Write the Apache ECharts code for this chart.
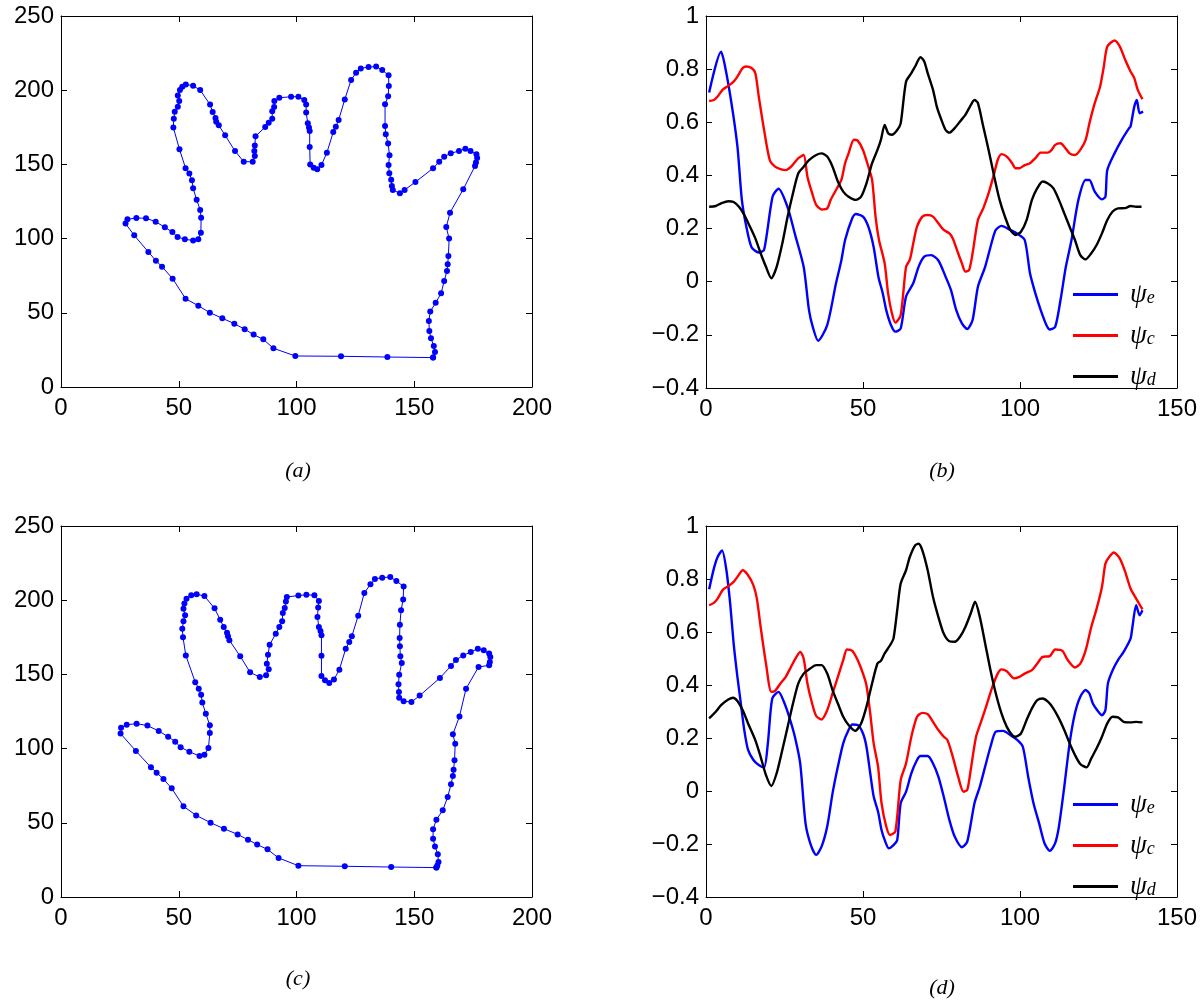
<!DOCTYPE html>
<html>
<head>
<meta charset="utf-8">
<script src="https://cdn.jsdelivr.net/npm/echarts@6/dist/echarts.min.js"></script>
<style>
html,body{margin:0;padding:0;background:#fff;}
#chart{width:1203px;height:1002px;}
</style>
</head>
<body>
<div id="chart"></div>
<script>
// ---------- data ----------
const captions = ['(a)', '(b)', '(c)', '(d)'];
const handTicksX = [0, 50, 100, 150, 200];
const handTicksY = [0, 50, 100, 150, 200, 250];
const psiTicksX = [0, 50, 100, 150];
const psiTicksY = [-0.4, -0.2, 0, 0.2, 0.4, 0.6, 0.8, 1];
const legendNames = ['e', 'c', 'd'];

const handA = [[158.0,19.8],[158.8,23.6],[158.3,27.6],[157.1,32.8],[156.4,37.7],[156.2,44.5],[156.8,50.8],[159.1,56.8],[161.4,63.1],[162.7,71.4],[163.9,78.2],[164.2,82.7],[164.5,88.3],[164.8,100.0],[163.6,107.8],[165.2,117.5],[170.8,133.2],[175.8,148.9],[176.2,151.2],[176.7,154.3],[176.4,156.8],[173.9,159.0],[171.7,160.6],[169.0,159.0],[165.5,157.5],[162.7,155.2],[160.6,151.8],[158.0,147.4],[150.5,138.1],[145.9,132.8],[143.9,130.5],[140.9,132.8],[140.5,135.4],[140.2,139.7],[139.4,144.0],[139.1,149.6],[139.5,156.1],[138.9,164.0],[137.9,170.3],[137.6,175.9],[137.6,190.5],[138.9,195.9],[139.2,202.8],[139.1,210.0],[136.4,213.6],[133.8,215.9],[130.6,215.6],[127.3,214.7],[125.3,211.8],[123.2,206.9],[120.5,193.8],[117.9,179.9],[116.7,175.4],[115.6,171.8],[112.9,157.9],[110.6,149.6],[108.8,146.7],[107.3,147.8],[105.8,150.0],[105.6,161.7],[105.6,172.5],[105.3,174.8],[104.8,177.7],[104.1,184.9],[104.1,190.3],[103.3,193.4],[100.8,195.6],[97.7,195.6],[92.7,194.9],[90.6,192.7],[90.5,188.7],[89.7,185.8],[89.7,180.8],[88.2,178.1],[86.7,175.2],[82.6,168.9],[82.3,162.8],[82.1,159.0],[82.3,155.7],[81.4,151.8],[77.6,151.8],[73.9,159.0],[69.7,169.6],[67.0,176.3],[65.9,178.8],[65.6,181.3],[64.4,185.3],[63.3,190.3],[59.1,200.1],[56.1,203.0],[53.0,203.9],[51.5,202.4],[50.5,200.1],[49.6,196.5],[50.2,192.7],[49.6,188.9],[48.3,185.5],[47.9,180.8],[47.7,174.8],[50.3,160.2],[52.9,147.4],[54.5,143.8],[55.6,139.4],[56.1,133.9],[57.6,126.2],[59.1,119.3],[59.5,114.1],[59.4,104.0],[58.3,99.5],[56.1,98.8],[52.6,99.5],[49.5,101.1],[47.3,104.4],[44.1,107.6],[40.2,111.4],[36.1,113.7],[32.0,113.9],[28.2,113.0],[27.4,110.1],[31.1,102.2],[37.1,91.0],[40.3,85.1],[42.9,81.1],[47.4,73.0],[52.9,59.5],[58.3,54.8],[63.2,50.1],[68.5,46.3],[73.6,42.7],[78.0,38.9],[81.8,35.3],[85.9,32.1],[90.2,26.1],[99.5,20.9],[118.9,20.7],[138.6,20.2],[158.0,19.8]];

const handC = [[159.4,19.8],[159.8,21.3],[160.3,23.6],[160.0,28.8],[158.8,34.1],[158.0,39.3],[158.0,45.6],[159.4,52.1],[162.1,58.4],[164.2,67.4],[165.6,75.9],[166.4,81.5],[166.7,85.8],[167.1,92.1],[167.4,103.3],[166.4,109.6],[169.2,121.7],[172.0,140.4],[177.3,155.0],[181.8,156.1],[182.1,158.4],[182.3,161.7],[181.8,164.0],[179.5,166.2],[177.0,167.3],[174.0,165.1],[170.8,162.8],[167.7,159.7],[165.6,155.7],[160.9,147.6],[152.3,135.7],[148.8,131.4],[145.5,131.9],[143.6,134.3],[143.5,138.1],[143.3,143.3],[143.6,149.8],[144.7,157.7],[144.1,162.2],[143.9,168.9],[143.8,174.5],[143.9,183.5],[144.4,193.2],[145.3,200.4],[145.5,209.3],[142.4,212.9],[139.8,215.6],[136.4,215.2],[133.3,214.3],[131.4,210.7],[128.8,204.9],[126.2,189.6],[123.5,175.7],[122.4,171.8],[120.9,167.3],[118.2,153.2],[115.9,146.5],[113.9,144.2],[112.1,146.0],[110.6,148.9],[110.6,162.6],[110.6,176.3],[110.2,179.2],[109.5,181.9],[108.9,188.7],[109.2,195.0],[109.5,199.5],[107.6,203.3],[104.2,203.7],[100.8,203.1],[95.9,202.2],[95.5,199.2],[95.0,194.7],[94.2,191.4],[93.9,185.8],[92.7,181.9],[91.2,177.4],[88.6,170.0],[87.9,163.3],[87.4,157.2],[88.2,153.4],[87.1,149.4],[84.4,148.2],[80.3,151.4],[76.1,162.2],[71.5,173.0],[70.9,175.7],[70.5,178.1],[69.1,181.9],[67.6,186.9],[65.2,194.5],[60.9,202.8],[57.6,204.0],[55.3,203.3],[53.3,201.0],[52.4,197.7],[52.0,194.3],[52.7,189.8],[52.0,185.8],[51.5,180.8],[51.8,175.0],[53.0,162.8],[57.0,144.7],[58.5,140.4],[59.5,136.3],[60.0,131.0],[61.5,123.5],[63.2,115.7],[63.2,110.5],[62.6,100.4],[60.9,95.9],[58.8,95.0],[54.5,97.9],[50.8,100.9],[48.5,104.7],[45.5,108.0],[41.5,111.9],[36.7,115.5],[32.1,116.8],[27.9,116.1],[25.5,114.1],[25.3,110.1],[31.8,98.4],[38.2,87.4],[40.6,83.8],[43.5,79.5],[47.0,73.2],[52.0,61.1],[57.4,55.0],[63.5,50.1],[69.2,46.0],[75.0,42.2],[79.4,38.6],[83.3,35.3],[87.7,32.1],[92.4,26.3],[100.8,21.1],[120.5,20.7],[140.2,20.2],[159.4,19.8]];

const psiE_b = [[1.0,0.712],[4.8,0.866],[5.9,0.82],[8.0,0.68],[10.0,0.51],[11.4,0.31],[12.8,0.21],[14.5,0.13],[16.8,0.11],[18.5,0.12],[21.2,0.32],[23.1,0.35],[26.0,0.28],[28.3,0.18],[31.1,0.056],[32.8,-0.107],[34.0,-0.17],[35.7,-0.222],[38.6,-0.163],[41.4,-0.006],[43.1,0.08],[44.3,0.157],[46.6,0.24],[47.7,0.255],[50.0,0.245],[51.7,0.207],[53.4,0.13],[54.9,0.019],[56.3,-0.044],[57.4,-0.107],[58.9,-0.163],[60.3,-0.188],[62.0,-0.176],[63.7,-0.056],[66.0,-0.006],[67.7,0.056],[69.5,0.094],[71.7,0.1],[74.0,0.08],[76.3,0.019],[78.0,-0.031],[79.7,-0.107],[81.5,-0.157],[83.2,-0.178],[84.9,-0.144],[86.6,-0.019],[88.9,0.056],[91.2,0.157],[92.3,0.195],[94.1,0.21],[96.9,0.195],[99.2,0.18],[101.5,0.157],[103.2,0.031],[104.9,-0.044],[106.6,-0.107],[108.4,-0.163],[109.5,-0.18],[111.2,-0.17],[112.9,-0.069],[114.6,0.056],[116.4,0.157],[118.6,0.308],[120.9,0.383],[122.1,0.383],[123.8,0.339],[126.1,0.31],[127.2,0.32],[127.8,0.42],[130.1,0.483],[132.4,0.534],[134.7,0.577],[135.2,0.584],[136.4,0.659],[137.2,0.684],[138.1,0.634],[139.2,0.64]];

const psiC_b = [[1.0,0.68],[2.5,0.684],[3.7,0.697],[5.4,0.724],[7.1,0.737],[8.8,0.753],[10.0,0.772],[11.7,0.804],[12.8,0.81],[14.5,0.804],[15.7,0.785],[16.8,0.697],[18.5,0.571],[20.3,0.458],[22.0,0.433],[23.7,0.424],[25.4,0.42],[27.1,0.433],[29.4,0.465],[31.1,0.477],[32.3,0.395],[33.8,0.333],[35.1,0.289],[36.8,0.272],[38.6,0.276],[39.7,0.308],[41.4,0.345],[43.1,0.383],[44.3,0.446],[45.4,0.483],[47.1,0.534],[48.3,0.531],[50.0,0.496],[51.7,0.433],[52.9,0.383],[54.0,0.245],[55.1,0.157],[56.9,0.069],[58.0,-0.044],[59.2,-0.119],[60.3,-0.154],[62.0,-0.126],[63.7,0.056],[64.9,0.082],[66.0,0.144],[67.2,0.207],[68.9,0.245],[70.6,0.251],[72.3,0.245],[74.0,0.22],[75.7,0.195],[77.5,0.182],[78.6,0.163],[80.3,0.107],[81.5,0.069],[82.6,0.038],[83.8,0.044],[84.9,0.107],[86.6,0.232],[88.3,0.276],[90.0,0.333],[91.8,0.408],[92.9,0.458],[94.1,0.48],[95.8,0.471],[97.5,0.446],[98.6,0.427],[99.8,0.427],[101.5,0.439],[103.2,0.446],[104.9,0.465],[106.6,0.486],[108.9,0.486],[110.1,0.496],[111.2,0.515],[112.9,0.521],[114.1,0.508],[115.8,0.483],[117.5,0.477],[119.2,0.496],[120.9,0.534],[122.1,0.596],[123.8,0.672],[125.5,0.734],[126.7,0.81],[127.8,0.885],[130.1,0.908],[131.8,0.885],[133.5,0.835],[135.2,0.791],[136.4,0.766],[137.5,0.722],[139.0,0.687]];

const psiD_b = [[1.0,0.282],[3.1,0.285],[4.8,0.295],[7.1,0.303],[8.8,0.3],[10.5,0.282],[12.2,0.251],[14.0,0.207],[15.7,0.163],[17.4,0.107],[19.1,0.056],[20.8,0.013],[22.5,0.056],[24.3,0.144],[26.0,0.245],[27.7,0.333],[29.4,0.408],[31.1,0.433],[32.8,0.458],[35.1,0.477],[36.8,0.483],[38.6,0.471],[40.3,0.433],[42.0,0.377],[43.7,0.339],[45.4,0.32],[47.7,0.308],[49.4,0.32],[51.1,0.37],[52.9,0.446],[54.6,0.496],[55.7,0.534],[56.9,0.59],[58.0,0.559],[59.2,0.553],[60.9,0.571],[62.0,0.596],[63.7,0.753],[65.4,0.785],[66.6,0.81],[68.3,0.845],[69.5,0.829],[70.6,0.785],[72.3,0.722],[73.5,0.659],[74.6,0.621],[76.3,0.571],[77.5,0.561],[79.2,0.578],[80.9,0.603],[82.6,0.628],[83.8,0.653],[85.5,0.684],[86.6,0.672],[88.3,0.584],[90.0,0.496],[91.8,0.395],[93.5,0.308],[95.2,0.245],[96.9,0.195],[98.6,0.176],[100.3,0.188],[102.1,0.232],[103.8,0.308],[105.5,0.352],[107.2,0.377],[108.9,0.37],[110.6,0.352],[112.4,0.308],[114.1,0.257],[115.8,0.207],[117.5,0.157],[119.2,0.1],[120.9,0.084],[122.7,0.107],[124.4,0.138],[126.1,0.182],[127.8,0.232],[129.5,0.264],[131.2,0.276],[133.5,0.277],[135.2,0.285],[137.0,0.282],[138.7,0.282]];

const psiE_d = [[1.0,0.761],[2.5,0.839],[3.7,0.883],[5.1,0.908],[6.5,0.833],[7.7,0.707],[8.8,0.557],[10.0,0.431],[11.1,0.33],[12.2,0.229],[13.4,0.155],[15.1,0.117],[16.8,0.098],[18.5,0.089],[19.7,0.18],[21.1,0.349],[23.1,0.374],[24.8,0.337],[26.5,0.28],[28.3,0.205],[30.0,0.104],[31.7,-0.122],[33.4,-0.204],[35.1,-0.241],[36.8,-0.21],[38.6,-0.134],[40.3,-0.009],[42.0,0.092],[43.7,0.18],[45.4,0.23],[46.6,0.251],[48.3,0.249],[50.0,0.217],[51.1,0.167],[52.3,0.067],[53.4,-0.021],[54.8,-0.078],[55.9,-0.147],[57.1,-0.191],[58.2,-0.216],[59.7,-0.204],[60.9,-0.185],[62.0,-0.046],[63.7,-0.003],[65.4,0.067],[67.2,0.117],[68.3,0.132],[70.6,0.132],[72.3,0.104],[74.0,0.054],[75.7,-0.021],[77.5,-0.109],[79.2,-0.172],[81.5,-0.212],[83.2,-0.191],[85.5,-0.046],[87.2,0.016],[88.9,0.092],[90.6,0.167],[92.3,0.224],[94.6,0.227],[96.9,0.211],[99.2,0.192],[100.9,0.167],[102.6,0.054],[104.3,-0.046],[106.1,-0.122],[107.8,-0.197],[109.5,-0.226],[111.2,-0.197],[112.4,-0.134],[114.1,0.016],[115.8,0.18],[117.5,0.293],[119.2,0.356],[120.9,0.381],[122.1,0.368],[123.2,0.33],[124.6,0.305],[126.1,0.286],[127.2,0.305],[128.0,0.406],[129.5,0.456],[131.2,0.494],[133.0,0.525],[135.2,0.575],[135.8,0.619],[137.0,0.701],[138.1,0.663],[139.0,0.682]];

const psiC_d = [[1.0,0.701],[2.5,0.71],[3.7,0.726],[5.4,0.76],[7.1,0.773],[8.8,0.789],[10.0,0.808],[11.7,0.833],[13.4,0.814],[15.1,0.776],[16.2,0.726],[17.4,0.619],[19.1,0.481],[20.8,0.374],[22.0,0.378],[23.7,0.406],[25.4,0.431],[27.1,0.469],[28.8,0.506],[30.0,0.525],[31.1,0.5],[32.3,0.406],[33.8,0.33],[35.1,0.283],[36.8,0.27],[38.6,0.305],[40.3,0.368],[42.0,0.431],[43.7,0.494],[44.9,0.534],[46.6,0.529],[48.3,0.494],[50.0,0.443],[51.1,0.399],[52.3,0.293],[53.4,0.18],[54.8,0.092],[55.9,-0.046],[57.4,-0.134],[58.6,-0.166],[60.3,-0.153],[62.0,0.041],[63.7,0.104],[65.4,0.205],[67.2,0.28],[68.9,0.295],[70.6,0.29],[72.3,0.261],[74.0,0.23],[75.7,0.205],[76.9,0.192],[78.6,0.129],[80.3,0.054],[82.0,-0.003],[83.2,0.004],[84.3,0.079],[86.0,0.205],[87.8,0.268],[89.5,0.33],[91.2,0.393],[92.9,0.443],[94.1,0.459],[95.8,0.452],[98.1,0.425],[99.8,0.431],[101.5,0.443],[103.8,0.456],[105.5,0.481],[107.2,0.506],[109.5,0.509],[111.2,0.534],[113.5,0.529],[115.2,0.494],[117.5,0.466],[119.2,0.481],[120.9,0.531],[122.7,0.619],[124.4,0.688],[126.1,0.77],[127.2,0.858],[128.4,0.883],[129.9,0.9],[131.8,0.877],[133.5,0.827],[135.2,0.764],[137.0,0.726],[139.0,0.685]];

const psiD_d = [[1.0,0.274],[3.1,0.299],[4.8,0.324],[7.1,0.345],[8.6,0.352],[10.0,0.34],[11.7,0.305],[13.4,0.255],[15.7,0.192],[17.4,0.129],[19.1,0.06],[20.8,0.019],[22.5,0.067],[24.3,0.155],[26.0,0.242],[27.7,0.33],[29.4,0.406],[31.1,0.443],[32.8,0.459],[35.1,0.475],[36.8,0.475],[38.6,0.443],[40.3,0.381],[42.0,0.33],[43.7,0.28],[45.4,0.249],[47.5,0.227],[49.4,0.255],[51.1,0.318],[52.9,0.406],[54.6,0.481],[55.7,0.491],[56.9,0.519],[58.6,0.55],[59.7,0.575],[60.9,0.682],[62.0,0.783],[63.7,0.833],[64.9,0.883],[66.6,0.927],[67.7,0.933],[68.9,0.908],[70.6,0.833],[72.3,0.732],[74.0,0.657],[75.7,0.594],[77.5,0.565],[79.2,0.563],[80.9,0.582],[82.6,0.619],[84.3,0.67],[85.7,0.714],[87.2,0.657],[88.9,0.557],[90.6,0.456],[92.3,0.368],[94.1,0.293],[95.8,0.242],[97.5,0.211],[98.6,0.205],[100.3,0.217],[102.1,0.268],[103.8,0.312],[105.5,0.343],[107.2,0.349],[108.9,0.337],[110.6,0.312],[112.4,0.274],[114.1,0.23],[115.8,0.18],[117.5,0.136],[119.2,0.102],[121.2,0.089],[122.7,0.123],[124.4,0.161],[126.1,0.205],[127.8,0.255],[129.5,0.28],[131.2,0.278],[133.0,0.261],[135.2,0.259],[137.0,0.261],[139.0,0.259]];

// ---------- layout ----------
const grids = [
  {left: 61, top: 16, width: 471, height: 371},
  {left: 706, top: 16, width: 471, height: 372},
  {left: 61, top: 526, width: 471, height: 371},
  {left: 706, top: 526, width: 471, height: 371}
];
const captionPos = [[298, 471], [942, 471], [298, 979], [942, 988]];

const SANS = 'Liberation Sans, Arial, Helvetica, sans-serif';
const SERIF = 'Liberation Serif, Times New Roman, serif';

function psiFmt(v) {
  const r = Math.round(v * 10) / 10;
  if (r === 0) return '0';
  if (r === 1) return '1';
  return (r < 0 ? '\u2212' : '') + Math.abs(r).toFixed(1);
}

function makeAxes(gi, ticks, isX, fmt) {
  const min = ticks[0], max = ticks[ticks.length - 1];
  const interval = ticks[1] - ticks[0];
  const base = {
    type: 'value', gridIndex: gi, min: min, max: max, interval: interval,
    splitLine: {show: false},
    axisLine: {show: true, onZero: false, lineStyle: {color: '#000', width: 1}},
    axisTick: {show: true, inside: true, length: 6, lineStyle: {color: '#000', width: 1}}
  };
  const main = Object.assign({}, base, {
    position: isX ? 'bottom' : 'left',
    axisLabel: {show: true, color: '#000', fontFamily: SANS, fontSize: 24,
      margin: isX ? 9 : 7, formatter: fmt, showMinLabel: true, showMaxLabel: true}
  });
  const mirror = Object.assign({}, base, {
    position: isX ? 'top' : 'right',
    axisLabel: {show: false}
  });
  return [main, mirror];
}

const xAxes = [], yAxes = [];
const handFmt = v => String(Math.round(v));
[[handTicksX, handTicksY, handFmt], [psiTicksX, psiTicksY, psiFmt],
 [handTicksX, handTicksY, handFmt], [psiTicksX, psiTicksY, psiFmt]].forEach((t, gi) => {
  xAxes.push(...makeAxes(gi, t[0], true, handFmt));
  yAxes.push(...makeAxes(gi, t[1], false, t[2]));
});

function handSeries(data, gi) {
  return {
    type: 'line', name: 'hand' + gi, data: data,
    xAxisIndex: gi * 2, yAxisIndex: gi * 2,
    symbol: 'circle', symbolSize: 6, showSymbol: true, showAllSymbol: true,
    itemStyle: {color: '#0000ff'},
    lineStyle: {color: '#0000ff', width: 1},
    silent: true, clip: false
  };
}
function psiSeries(data, gi, name, color) {
  return {
    type: 'line', name: name, data: data,
    xAxisIndex: gi * 2, yAxisIndex: gi * 2,
    symbol: 'none', smooth: 0.25,
    itemStyle: {color: color},
    lineStyle: {color: color, width: 2.4},
    silent: true
  };
}

const colors = {e: '#0000ff', c: '#ff0000', d: '#000000'};
const series = [
  handSeries(handA, 0),
  psiSeries(psiE_b, 1, 'e_b', colors.e),
  psiSeries(psiC_b, 1, 'c_b', colors.c),
  psiSeries(psiD_b, 1, 'd_b', colors.d),
  handSeries(handC, 2),
  psiSeries(psiE_d, 3, 'e_d', colors.e),
  psiSeries(psiC_d, 3, 'c_d', colors.c),
  psiSeries(psiD_d, 3, 'd_d', colors.d)
];

function makeLegend(suffix, top) {
  return {
    show: true, orient: 'vertical', left: 1068, top: top,
    itemWidth: 45, itemHeight: 3, itemGap: 14, icon: 'rect',
    selectedMode: false,
    data: legendNames.map(n => n + suffix),
    formatter: name => '{p|\u03c8}{s|' + name.charAt(0) + '}',
    textStyle: {
      color: '#000',
      rich: {
        p: {fontFamily: SERIF, fontStyle: 'italic', fontSize: 27, lineHeight: 26, padding: [0, 0, 0, 7], color: '#000'},
        s: {fontFamily: SERIF, fontStyle: 'italic', fontSize: 18, lineHeight: 15, verticalAlign: 'bottom', color: '#000'}
      }
    }
  };
}

const option = {
  animation: false,
  backgroundColor: '#fff',
  grid: grids.map(g => Object.assign({containLabel: false}, g)),
  xAxis: xAxes,
  yAxis: yAxes,
  legend: [makeLegend('_b', 276), makeLegend('_d', 786)],
  series: series,
  graphic: captions.map((c, i) => ({
    type: 'text', x: captionPos[i][0], y: captionPos[i][1],
    style: {text: c, fontFamily: SERIF, fontStyle: 'italic', fontSize: 22,
      fill: '#000', align: 'center', verticalAlign: 'middle'}
  }))
};

const chart = echarts.init(document.getElementById('chart'), null, {renderer: 'canvas'});
chart.setOption(option);
</script>
</body>
</html>
